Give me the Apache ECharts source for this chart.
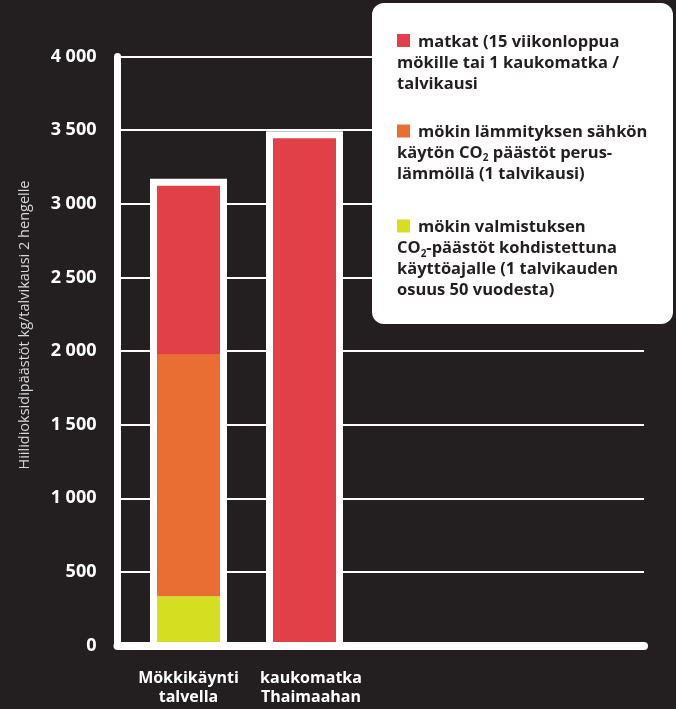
<!DOCTYPE html>
<html><head><meta charset="utf-8">
<script src="https://cdn.jsdelivr.net/npm/echarts@6/dist/echarts.min.js"></script>
<style>html,body{margin:0;padding:0;background:#231f20}#c{width:676px;height:709px}</style>
</head><body><div id="c"></div>
<script>
// ---- data ----
const categories = ['Mökkikäynti\ntalvella', 'kaukomatka\nThaimaahan', '', ''];
const travel = [1142, 3445, null, null];        // matkat
const heating = [1645, null, null, null];       // mökin lämmityksen sähkön käytön CO2 päästöt
const construction = [335, null, null, null];   // mökin valmistuksen CO2-päästöt
const yMin = 0, yMax = 4000, yStep = 500;
const yTitle = 'Hiilidioksidipäästöt kg/talvikausi 2 hengelle';
const legendLines = [
  ['matkat (15 viikonloppua', 'mökille tai 1 kaukomatka /', 'talvikausi'],
  ['mökin lämmityksen sähkön', 'käytön CO{sub|2} päästöt perus-', 'lämmöllä (1 talvikausi)'],
  ['mökin valmistuksen', 'CO{sub|2}-päästöt kohdistettuna', 'käyttöajalle (1 talvikauden', 'osuus 50 vuodesta)']
];
const colors = ['#e24048', '#e86e34', '#d6de22'];

const totals = categories.map((_, i) => {
  const t = (travel[i] || 0) + (heating[i] || 0) + (construction[i] || 0);
  return t > 0 ? t : null;
});
const frameData = totals.map((t, i) => t == null ? null : [i, t]).filter(d => d);

const FONT = 'Open Sans';
const chart = echarts.init(document.getElementById('c'), null, {renderer: 'canvas'});

// legend graphic
const graphic = [{
  type: 'rect', shape: {x: 372, y: 3, width: 301, height: 321, r: 12},
  style: {fill: '#ffffff'}, z: 100
}];
const groupTop = [42, 132, 227.5];
const markerTop = [34, 124.5, 219.5];
const lh = 21;
legendLines.forEach((lines, g) => {
  graphic.push({type: 'rect', shape: {x: 397, y: markerTop[g], width: 13, height: 13},
    style: {fill: colors[g]}, z: 101});
  lines.forEach((ln, k) => {
    graphic.push({
      type: 'text', x: k === 0 ? 418 : 397, y: groupTop[g] + k * lh, z: 101,
      style: {
        text: ln, fill: '#231f20',
        fontFamily: FONT, fontWeight: 'bold', fontSize: 16.5,
        verticalAlign: 'middle', align: 'left',
        rich: {sub: {fontSize: 10, fontWeight: 'bold', fontFamily: FONT, fill: '#231f20', verticalAlign: 'bottom', lineHeight: 21}}
      }
    });
  });
});
graphic.push({
  type: 'text', x: 25, y: 325, rotation: Math.PI / 2, z: 50,
  style: {text: yTitle, fill: '#d8d8d8', fontFamily: FONT, fontSize: 14.5, align: 'center', verticalAlign: 'middle'}
});

const fmt = v => {
  const s = String(v);
  return v >= 1000 ? s.slice(0, s.length - 3) + ' ' + s.slice(-3) : s;
};

const barW = 63;
const frameW = 7;
chart.setOption({
  backgroundColor: '#231f20',
  animation: false,
  grid: [
    {left: 117.5, right: 32, top: 56.5, bottom: 63.5},
    {left: 130.5, width: 464, top: 56.5, bottom: 63.5}
  ],
  xAxis: [
    {gridIndex: 0, type: 'value', min: 0, max: 1, z: 10,
      axisLine: {show: true, lineStyle: {color: '#ffffff', width: 8}},
      axisTick: {show: false}, axisLabel: {show: false}, splitLine: {show: false}},
    {gridIndex: 1, type: 'category', data: categories.map((c, i) => i === 1 ? {value: c, textStyle: {padding: [0, 0, 0, 13]}} : c),
      axisLine: {show: false}, axisTick: {show: false},
      axisLabel: {color: '#ffffff', fontFamily: FONT, fontWeight: 'bold', fontSize: 16, lineHeight: 19.5, margin: 23, interval: 0}}
  ],
  yAxis: [
    {gridIndex: 0, type: 'value', min: yMin, max: yMax, interval: yStep, z: 0,
      axisLine: {show: true, lineStyle: {color: '#ffffff', width: 7}},
      axisTick: {show: false},
      axisLabel: {color: '#ffffff', fontFamily: FONT, fontWeight: 'bold', fontSize: 18, margin: 21, formatter: fmt},
      splitLine: {show: true, lineStyle: {color: '#ffffff', width: 2}}},
    {gridIndex: 1, type: 'value', min: yMin, max: yMax, interval: yStep, show: false,
      splitLine: {show: false}}
  ],
  series: [
    {type: 'custom', xAxisIndex: 1, yAxisIndex: 1, data: frameData, z: 2, silent: true,
      encode: {x: 0, y: 1},
      renderItem: (params, api) => {
        const top = api.coord([api.value(0), api.value(1)]);
        const base = api.coord([api.value(0), 0]);
        return {type: 'rect',
          shape: {x: top[0] - barW / 2 - frameW, y: top[1] - frameW, width: barW + 2 * frameW, height: base[1] - top[1] + frameW},
          style: {fill: '#ffffff'}};
      }},
    {type: 'bar', name: 'valmistus', xAxisIndex: 1, yAxisIndex: 1, stack: 's', data: construction, barWidth: barW, z: 3,
      itemStyle: {color: colors[2]}},
    {type: 'bar', name: 'lämmitys', xAxisIndex: 1, yAxisIndex: 1, stack: 's', data: heating, barWidth: barW, z: 3,
      itemStyle: {color: colors[1]}},
    {type: 'bar', name: 'matkat', xAxisIndex: 1, yAxisIndex: 1, stack: 's', data: travel, barWidth: barW, z: 3,
      itemStyle: {color: colors[0]}}
  ],
  graphic: graphic
});
</script></body></html>
